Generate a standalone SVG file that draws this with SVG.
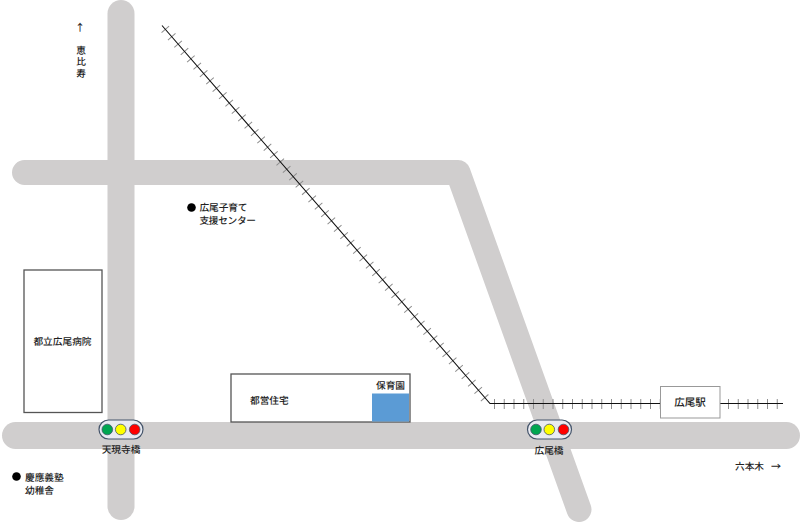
<svg xmlns="http://www.w3.org/2000/svg" width="800" height="522" viewBox="0 0 800 522">
<style>
text{font-family:"Noto Sans CJK JP","Noto Sans",sans-serif;font-size:9.700px;font-weight:500;fill:#222;text-rendering:geometricPrecision}
.m{text-anchor:middle}
.arr{font-size:10px;font-weight:500;opacity:.99}
.road{fill:none;stroke:#d0cece;stroke-linecap:round;stroke-linejoin:round}
.rail{fill:none;stroke:#111;stroke-width:1.100}
.tie{fill:none;stroke:#8e8e8e;stroke-width:10;stroke-dasharray:1 8.75}
.bld{fill:#fff;stroke:#555;stroke-width:1.300}
.sig{fill:#e9ebf2;stroke:#44546a;stroke-width:1.200}
.lamp{stroke:#44546a;stroke-width:.8}
</style>
<g id="roads">
<path class="road" stroke-width="27" d="M121,13.500V506.500"/>
<path class="road" stroke-width="27" d="M15.500,435.500H786.500"/>
<path class="road" stroke-width="25" d="M24.500,172.500H458L579,509.500"/>
</g>
<g id="connectors">
<path class="tie" d="M165,29L490,404"/>
<path class="tie" d="M494,404H783"/>
<path class="rail" d="M162,25.500L490,403.500H783"/>
</g>
<g id="hospital"><rect class="bld" x="24" y="270" width="78" height="142.500"/><text class="m" x="62.500" y="345">都立広尾病院</text></g>
<g id="housing"><rect class="bld" x="231" y="374" width="179" height="48"/><text x="250" y="404">都営住宅</text></g>
<g id="nursery"><rect x="372" y="393.500" width="37" height="28" fill="#5b9bd5"/><text x="376" y="389">保育園</text></g>
<g id="station"><rect x="660.500" y="386.500" width="59.500" height="31.500" fill="#fff" stroke="#999" stroke-width="1"/><text class="m" x="690" y="406" style="font-size:10.500px">広尾駅</text></g>
<g id="signal-tengenji">
<rect class="sig" x="99" y="420" width="44" height="19" rx="9.500"/>
<circle class="lamp" cx="107.300" cy="429.500" r="5.300" fill="#00a651"/>
<circle class="lamp" cx="120.700" cy="429.500" r="5.300" fill="#ffff00"/>
<circle class="lamp" cx="134.700" cy="429.500" r="5.300" fill="#ff0000"/>
<text class="m" x="121" y="452.500">天現寺橋</text>
</g>
<g id="signal-hiroo">
<rect class="sig" x="527.500" y="420" width="44" height="19" rx="9.500"/>
<circle class="lamp" cx="536" cy="429.500" r="5.300" fill="#00a651"/>
<circle class="lamp" cx="549.300" cy="429.500" r="5.300" fill="#ffff00"/>
<circle class="lamp" cx="563.500" cy="429.500" r="5.300" fill="#ff0000"/>
<text class="m" x="549" y="454">広尾橋</text>
</g>
<g id="keio"><circle cx="16.500" cy="476.500" r="4.300" fill="#000"/><text x="25" y="481">慶應義塾<tspan x="25" dy="12.500">幼稚舎</tspan></text></g>
<g id="support"><circle cx="191.500" cy="207.500" r="4.300" fill="#000"/><text x="199.500" y="211" textLength="48">広尾子育て</text><text x="199.500" y="224" textLength="56.500">支援センター</text></g>
<g id="ebisu"><text class="m arr" x="80" y="31">↑</text><text x="81" y="45" writing-mode="vertical-rl" letter-spacing="2.100">恵比寿</text></g>
<g id="roppongi"><text x="735" y="470">六本木</text><text class="arr" x="771" y="470">→</text></g>
</svg>
